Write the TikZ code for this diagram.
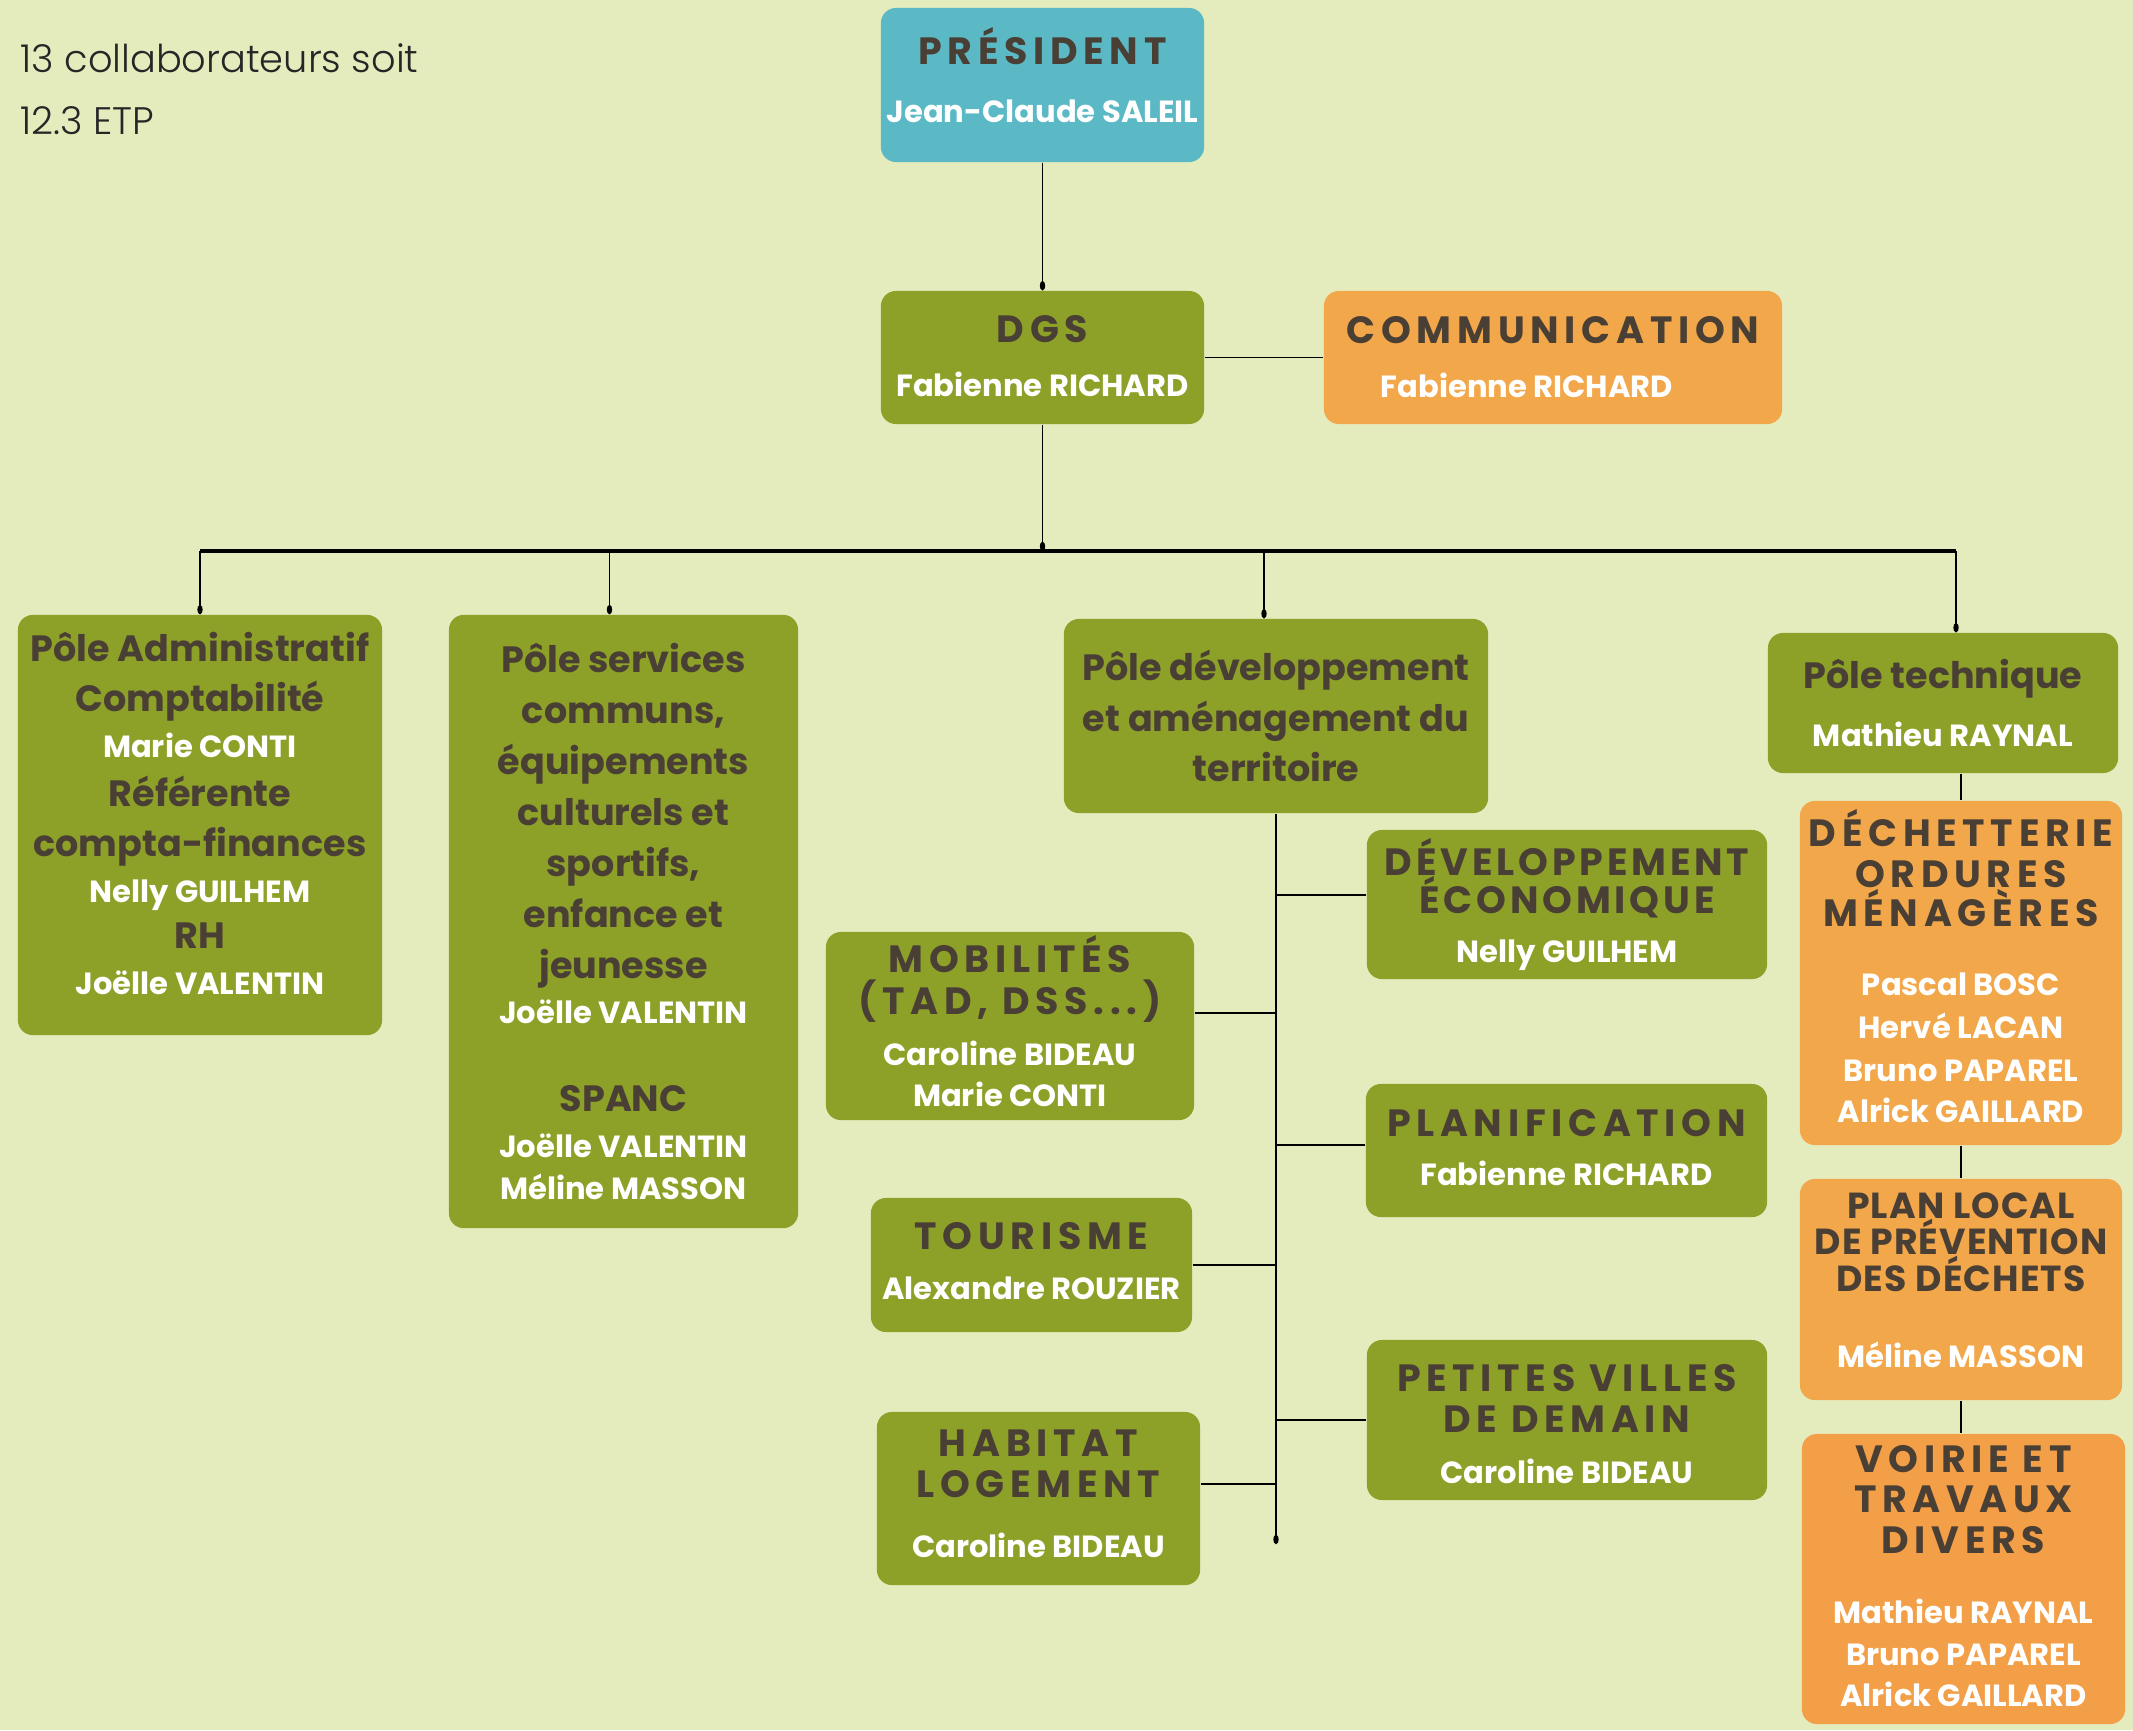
\documentclass[tikz,border=0pt]{standalone}
\usepackage{fontspec}
\setmainfont{Poppins}
\newfontfamily\capsfont[LetterSpace=15]{Poppins}
\newfontfamily\widecaps[LetterSpace=15]{Poppins}
\newfontfamily\midcaps[LetterSpace=10]{Poppins}
\newfontfamily\tightcaps[LetterSpace=3]{Poppins}
\newfontfamily\lightfont[UprightFont={* Light}]{Poppins}
\usepackage{tikz}
\usetikzlibrary{positioning}
\usetikzlibrary{arrows.meta}
\definecolor{bgcol}{RGB}{228,236,190}
\definecolor{pgreen}{RGB}{141,161,41}
\definecolor{pteal}{RGB}{91,185,198}
\definecolor{porange}{RGB}{242,167,75}
\definecolor{porangedk}{RGB}{243,159,72}
\definecolor{ink}{RGB}{74,63,52}
\tikzset{
    boxnode/.style = {rounded corners=0.15cm, align=center, inner sep=0pt, text=ink, font={\bfseries\lineskiplimit=-100pt\relax\fontsize{8pt}{11.4pt}\selectfont}},
    gbox/.style = {boxnode, fill=pgreen},
    obox/.style = {boxnode, fill=porange},
    tbox/.style = {boxnode, fill=pteal},
}
\newcommand{\hd}{\capsfont\fontsize{10.8pt}{11.4pt}\selectfont}
\newcommand{\whd}{\widecaps\fontsize{10.8pt}{11.4pt}\selectfont}
\newcommand{\mhd}{\midcaps\fontsize{10.8pt}{11.4pt}\selectfont}
\newcommand{\thd}{\tightcaps\fontsize{10.3pt}{11.4pt}\selectfont}
\newcommand{\pl}{\fontsize{10.4pt}{11.4pt}\selectfont}
\newcommand{\nm}{\color{white}\fontsize{8.7pt}{11.4pt}\selectfont}

\begin{document}
\begin{tikzpicture}[
	x=0.01cm, y=-0.01cm,
	link/.style = {draw=black, line width=0.5pt},
	buslink/.style = {draw=black, line width=0.9pt},
	dotend/.style = {-{Circle[length=2.6pt,width=1.5pt]}},
]
\fill[bgcol] (0,0) rectangle (2133,1730);
\useasboundingbox (0,0) rectangle (2133,1730);

\node[anchor=west, align=left, text=black!85, font={\lightfont\fontsize{10.9pt}{17.6pt}\selectfont}] (etp) at (8,89) {13 collaborateurs soit\\12.3 ETP};

% direction
\node[tbox, minimum width=3.23cm, minimum height=1.54cm, text depth=5.7pt] (pres) at (1042.5,85) {{\hd PRÉSIDENT}\\[5.1pt]{\nm Jean-Claude SALEIL}};
\node[gbox, minimum width=3.23cm, minimum height=1.33cm, text depth=1.1pt] (dgs) at (1042.5,357.5) {{\hd DGS}\\[4pt]{\nm Fabienne RICHARD}};
\node[obox, minimum width=4.58cm, minimum height=1.33cm] (com) at (1553,357.5) {{\hd COMMUNICATION}\\[4pt]{\nm Fabienne RICHARD\hspace{0.52cm}}};

% poles
\node[gbox, minimum width=3.64cm, minimum height=4.20cm, text depth=6.5pt] (admin) at (200,825) {{\pl Pôle Administratif}\\[2.6pt]{\pl Comptabilité}\\[1.8pt]{\nm Marie CONTI}\\[2.6pt]{\pl Référente}\\[2.6pt]{\pl compta-finances}\\[1.8pt]{\nm Nelly GUILHEM}\\[1.8pt]{\pl RH}\\[1.6pt]{\nm Joëlle VALENTIN}};
\node[gbox, minimum width=3.49cm, minimum height=6.13cm] (serv) at (623.5,921.5) {{\pl Pôle services}\\[3.1pt]{\pl communs,}\\[3.1pt]{\pl équipements}\\[3.1pt]{\pl culturels et}\\[3.1pt]{\pl sportifs,}\\[3.1pt]{\pl enfance et}\\[3.1pt]{\pl jeunesse}\\[1.4pt]{\nm Joëlle VALENTIN}\\[13.4pt]{\pl SPANC}\\[1.7pt]{\nm Joëlle VALENTIN}\\[0.5pt]{\nm Méline MASSON}};
\node[gbox, minimum width=4.24cm, minimum height=1.94cm] (dev) at (1276,716) {{\pl Pôle développement}\\[3pt]{\pl et aménagement du}\\[3pt]{\pl territoire}};
\node[gbox, minimum width=3.50cm, minimum height=1.40cm] (tech) at (1943,703) {{\pl Pôle technique}\\[5.1pt]{\nm Mathieu RAYNAL}};

% services du pole developpement
\node[gbox, minimum width=4.00cm, minimum height=1.49cm] (eco) at (1567,904.5) {{\mhd DÉVELOPPEMENT}\\[-0.6pt]{\mhd ÉCONOMIQUE}\\[2.6pt]{\nm Nelly GUILHEM}};
\node[gbox, minimum width=3.68cm, minimum height=1.88cm, text depth=2.6pt] (mob) at (1010,1026) {{\hd MOBILITÉS}\\[0.3pt]{\hd (TAD, DSS...)}\\[3.1pt]{\nm Caroline BIDEAU}\\[0.5pt]{\nm Marie CONTI}};
\node[gbox, minimum width=4.01cm, minimum height=1.33cm, text depth=1.7pt] (plan) at (1566.5,1150.5) {{\hd PLANIFICATION}\\[2.6pt]{\nm Fabienne RICHARD}};
\node[gbox, minimum width=3.21cm, minimum height=1.34cm, text depth=2.3pt] (tour) at (1031.5,1265) {{\hd TOURISME}\\[2.8pt]{\nm Alexandre ROUZIER}};
\node[gbox, minimum width=4.00cm, minimum height=1.60cm, text height=36.3pt] (pvd) at (1567,1420) {{\hd PETITES VILLES}\\[0.3pt]{\hd DE DEMAIN}\\[3.1pt]{\nm Caroline BIDEAU}};
\node[gbox, minimum width=3.23cm, minimum height=1.73cm, text depth=2.8pt] (hab) at (1038.5,1498.5) {{\hd HABITAT}\\[0.3pt]{\hd LOGEMENT}\\[5.7pt]{\nm Caroline BIDEAU}};

% services du pole technique
\node[obox, minimum width=3.22cm, minimum height=3.44cm, text depth=4pt] (dech) at (1961,973) {{\whd DÉCHETTERIE}\\[0.3pt]{\whd ORDURES}\\[-0.3pt]{\whd MÉNAGÈRES}\\[8.2pt]{\nm Pascal BOSC}\\[0.8pt]{\nm Hervé LACAN}\\[0.8pt]{\nm Bruno PAPAREL}\\[0.3pt]{\nm Alrick GAILLARD}};
\node[obox, minimum width=3.22cm, minimum height=2.21cm, text depth=5.4pt] (plpd) at (1961,1289.5) {{\thd PLAN LOCAL}\\[-0.9pt]{\thd DE PRÉVENTION}\\[-0.9pt]{\thd DES DÉCHETS}\\[10.2pt]{\nm Méline MASSON}};
\node[boxnode, fill=porangedk, minimum width=3.23cm, minimum height=2.90cm, text depth=1.7pt] (voir) at (1963.5,1579) {{\whd VOIRIE ET}\\[0pt]{\whd TRAVAUX}\\[0.3pt]{\whd DIVERS}\\[8.5pt]{\nm Mathieu RAYNAL}\\[0.5pt]{\nm Bruno PAPAREL}\\[0.3pt]{\nm Alrick GAILLARD}};

% liens
\coordinate (bus) at (1042.5,551);
\coordinate (spine) at (1276,1544);
\draw[link, dotend] (pres) -- (dgs);
\draw[link] (dgs) -- (com);
\draw[link, dotend] (dgs) -- (bus);
\draw[buslink] (admin.north |- bus) -- ([xshift=0.13cm]tech.north |- bus);
\draw[link, dotend] (admin.north |- bus) -- (admin.north);
\draw[link, dotend] ([xshift=-0.14cm]serv.north |- bus) -- ([xshift=-0.14cm]serv.north);
\draw[link, dotend] ([xshift=-0.12cm]dev.north |- bus) -- ([xshift=-0.12cm]dev.north);
\draw[link, dotend] ([xshift=0.13cm]tech.north |- bus) -- ([xshift=0.13cm]tech.north);
\draw[link, dotend] (dev.south) -- (spine);
\draw[link] ([yshift=0.095cm]eco.west) -- ([yshift=0.095cm]eco.west -| spine);
\draw[link] ([yshift=0.13cm]mob.east) -- ([yshift=0.13cm]mob.east -| spine);
\draw[link] ([yshift=0.055cm]plan.west) -- ([yshift=0.055cm]plan.west -| spine);
\draw[link] (tour.east) -- (tour.east -| spine);
\draw[link] (pvd.west) -- (pvd.west -| spine);
\draw[link] ([yshift=0.145cm]hab.east) -- ([yshift=0.145cm]hab.east -| spine);
\draw[link] (tech.south -| dech.north) -- (dech.north);
\draw[link] (dech) -- (plpd);
\draw[link] (plpd.south) -- (plpd.south |- voir.north);

\end{tikzpicture}
\end{document}
